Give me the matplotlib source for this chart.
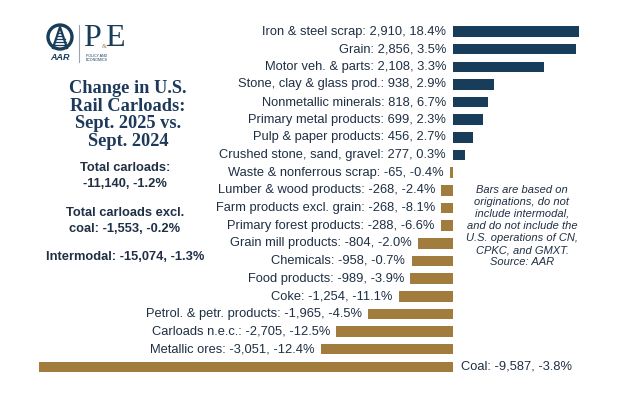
import matplotlib
matplotlib.use("Agg")
import matplotlib.pyplot as plt
from matplotlib.patches import Circle

categories = [
    "Iron & steel scrap", "Grain", "Motor veh. & parts", "Stone, clay & glass prod.",
    "Nonmetallic minerals", "Primary metal products", "Pulp & paper products",
    "Crushed stone, sand, gravel", "Waste & nonferrous scrap", "Lumber & wood products",
    "Farm products excl. grain", "Primary forest products", "Grain mill products",
    "Chemicals", "Food products", "Coke", "Petrol. & petr. products", "Carloads n.e.c.",
    "Metallic ores", "Coal",
]
changes = [2910, 2856, 2108, 938, 818, 699, 456, 277, -65, -268, -268, -288, -804,
           -958, -989, -1254, -1965, -2705, -3051, -9587]
pct_changes = [18.4, 3.5, 3.3, 2.9, 6.7, 2.3, 2.7, 0.3, -0.4, -2.4, -8.1, -6.6, -2.0,
               -0.7, -3.9, -11.1, -4.5, -12.5, -12.4, -3.8]

title_lines = "Change in U.S.\nRail Carloads:\nSept. 2025 vs.\nSept. 2024"
summary_total = "Total carloads:\n-11,140, -1.2%"
summary_excl = "Total carloads excl.\ncoal: -1,553, -0.2%"
summary_inter = "Intermodal: -15,074, -1.3%"
note_text = ("Bars are based on\noriginations, do not\ninclude intermodal,\n"
             "and do not include the\nU.S. operations of CN,\nCPKC, and GMXT.\nSource: AAR")

NAVY = "#183d5a"
GOLD = "#a27c3c"
TXT = "#1f2f44"
W, H = 624, 395
plt.rcParams['font.family'] = ['Liberation Sans', 'DejaVu Sans']

fig = plt.figure(figsize=(W / 100, H / 100), dpi=100)
fig.patch.set_facecolor("white")
ax = fig.add_axes([0, 0, 1, 1])
ax.axis("off")

# scale: pixels per unit and zero position
s = 0.0432
x0 = 453
ax.set_xlim(-x0 / s, (W - x0) / s)
y_first, step = 31.5, 17.65
ax.set_ylim((H - y_first) / step, -y_first / step)

ypos = list(range(len(categories)))
colors = [NAVY if v > 0 else GOLD for v in changes]
ax.barh(ypos, changes, height=0.6, color=colors)

fmt_fs = 9.3
min_val = min(changes)
for y, cat, v, p in zip(ypos, categories, changes, pct_changes):
    label = f"{cat}: {v:,}, {p:.1f}%"
    if v > 0:
        ax.annotate(label, (0, y), xytext=(-5, 0), textcoords="offset points",
                    ha="right", va="center", fontsize=fmt_fs, color=TXT)
    elif v == min_val:
        ax.annotate(label, (0, y), xytext=(6, 0), textcoords="offset points",
                    ha="left", va="center", fontsize=fmt_fs, color=TXT)
    else:
        ax.annotate(label, (v, y), xytext=(-4.5, 0), textcoords="offset points",
                    ha="right", va="center", fontsize=fmt_fs, color=TXT)

def ftxt(x, y, t, **kw):
    fig.text(x / W, 1 - y / H, t, **kw)

ftxt(128, 115, title_lines, ha="center", va="center", fontsize=13.2,
     fontweight="bold", family=["Liberation Serif"], color="#1d3a5a", linespacing=1.06)
ftxt(125, 176, summary_total, ha="center", va="center", fontsize=9.3,
     fontweight="bold", color=TXT, linespacing=1.35)
ftxt(125, 221, summary_excl, ha="center", va="center", fontsize=9.3,
     fontweight="bold", color=TXT, linespacing=1.35)
ftxt(125, 257, summary_inter, ha="center", va="center", fontsize=9.3,
     fontweight="bold", color=TXT)
ftxt(522, 226, note_text, ha="center", va="center", fontsize=8,
     style="italic", color=TXT, linespacing=1.27)

# logo
lax = fig.add_axes([40 / W, 1 - 65 / H, 100 / W, 50 / H])
lax.set_xlim(0, 100)
lax.set_ylim(50, 0)
lax.axis("off")
cx, cy = 20, 22
lax.add_patch(Circle((cx, cy), 12, fill=False, ec=NAVY, lw=2.4))
lax.plot([cx - 7, cx, cx + 7], [cy + 11, cy - 10, cy + 11], color=NAVY, lw=1.6)
for k in range(5):
    yy = cy - 4 + k * 3
    half = 2 + k * 1.3
    lax.plot([cx - half, cx + half], [yy, yy], color=NAVY, lw=0.9)
lax.text(cx, 43, "AAR", ha="center", va="center", fontsize=6.5, style="italic",
         fontweight="bold", color=NAVY)
lax.plot([39, 39], [10, 47], color="#9aa5b1", lw=0.8)
lax.text(43, 24, "P", ha="left", va="center", fontsize=23, family=["Liberation Serif"],
         color=NAVY)
lax.text(61.5, 31, "&", ha="left", va="center", fontsize=4.5, family=["Liberation Serif"],
         color=GOLD)
lax.text(65, 24, "E", ha="left", va="center", fontsize=23, family=["Liberation Serif"],
         color=NAVY)
lax.text(46, 43, "POLICY AND\nECONOMICS", ha="left", va="center", fontsize=2.6,
         color=NAVY, linespacing=1.1)

fig.savefig("out.png", dpi=100, facecolor="white")
